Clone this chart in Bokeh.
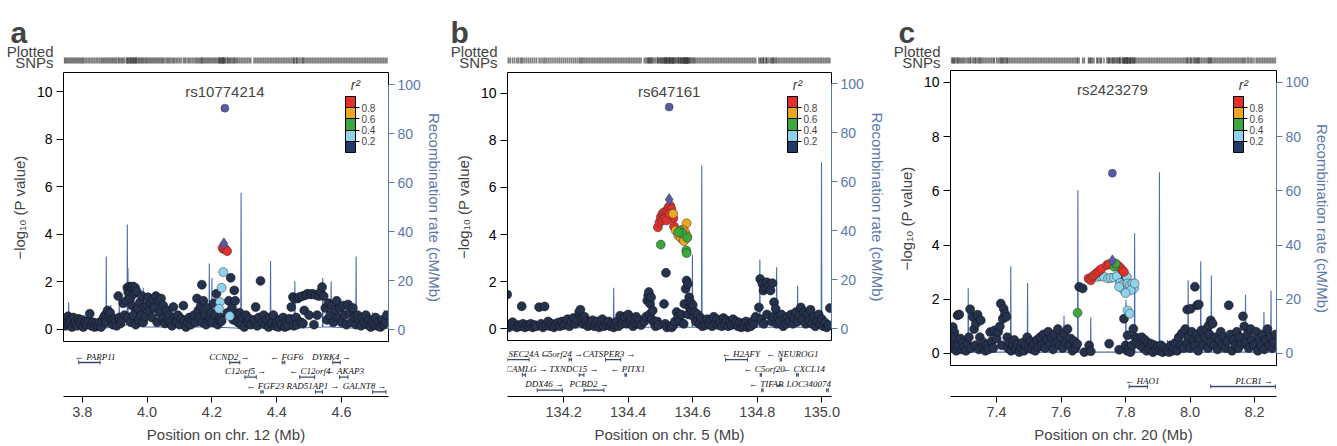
import math
from bokeh.plotting import figure
from bokeh.models import (Range1d, LinearAxis, FixedTicker, ColumnDataSource, Label,
                          LabelSet, ColorBar, LinearColorMapper, PrintfTickFormatter, AllLabels)
from bokeh.layouts import row, column
from bokeh.embed import file_html
from bokeh.resources import INLINE

FONT = "Liberation Sans"
NAVY_PT = "#25324e"
LD_PALETTE = ["#203a66", "#8dd3ec", "#3aa83a", "#f2a51e", "#e5302a"]
LEAD_COL = "#5b5a9e"
REC_COL = "#4b6db0"
RAXIS_COL = "#5a78ad"
GENE_COL = "#3b4a6b"

# ---------------- Panel a : chr12 ----------------
A_TITLE = "rs10774214"
A_XLABEL = "Position on chr. 12 (Mb)"
A_XTICKS = [3.8, 4.0, 4.2, 4.4, 4.6]
A_LEAD = (4.240, 9.30)
A_LEAD_COMB = (4.237, 3.60)
A_BG = [(3.745,0.45),(3.748,0.15),(3.752,0.3),(3.756,0.55),(3.760,0.2),(3.764,0.4),(3.768,0.1),(3.772,0.5),
        (3.776,0.25),(3.780,0.35),(3.784,0.15),(3.788,0.45),(3.792,0.3),(3.796,0.2),(3.800,0.4),(3.803,0.1),
        (3.808,0.3),(3.813,0.2),(3.818,0.35),(3.823,0.66),(3.828,0.15),(3.833,0.3),(3.838,0.1),(3.843,0.25),
        (3.848,0.15),(3.853,0.3),(3.858,0.1),(3.862,0.35),(3.866,0.5),(3.870,0.6),(3.874,0.3),(3.878,0.8),
        (3.882,0.55),(3.886,0.7),(3.890,0.4),(3.894,0.2),(3.898,0.45),(3.902,0.3),(3.906,0.15),(3.911,1.4),
        (3.914,0.5),(3.918,0.25),(3.922,0.4),(3.926,1.1),(3.930,0.6),(3.936,1.2),(3.939,1.75),(3.942,1.55),
        (3.945,1.8),(3.948,1.3),(3.951,1.78),(3.954,1.0),(3.957,1.8),(3.960,1.5),(3.963,1.75),(3.966,0.8),
        (3.968,1.6),(3.940,0.5),(3.950,0.3),(3.958,0.6),(3.965,0.2),(3.972,0.9),(3.975,0.4),(3.978,1.15),
        (3.982,0.6),(3.985,1.4),(3.988,0.3),(3.992,0.95),(3.996,0.55),(3.999,1.0),(4.003,1.35),(4.007,0.8),
        (4.011,1.1),(4.015,0.5),(4.019,1.25),(4.023,0.9),(4.027,1.4),(4.031,0.3),(4.035,1.2),(4.039,0.7),
        (4.043,1.3),(4.047,0.45),(4.050,1.0),(4.055,0.25),(4.060,0.8),(4.064,0.4),(4.068,0.6),(4.072,0.3),
        (4.077,0.15),(4.081,0.94),(4.085,0.5),(4.090,0.3),(4.095,0.6),(4.100,0.2),(4.105,0.45),(4.112,1.0),
        (4.116,0.35),(4.120,0.1),(4.126,0.3),(4.130,0.5),(4.135,0.2),(4.140,0.4),(4.145,0.6),(4.150,0.3),
        (4.154,1.3),(4.158,0.8),(4.162,0.5),(4.166,1.0),(4.169,1.88),(4.170,0.3),(4.174,1.2),(4.178,0.6),
        (4.182,0.2),(4.186,0.9),(4.190,0.4),(4.194,0.5),(4.198,0.7),(4.202,0.3),(4.206,1.1),(4.210,0.6),
        (4.214,1.5),(4.218,0.2),(4.222,0.4),(4.226,0.5),(4.230,0.35),(4.248,0.7),(4.252,1.2),(4.258,2.17),
        (4.262,0.9),(4.266,0.4),(4.269,1.64),(4.272,1.2),(4.276,0.6),(4.280,0.3),(4.285,0.7),(4.290,0.2),
        (4.295,0.5),(4.300,0.1),(4.305,0.6),(4.310,0.3),(4.315,0.45),(4.320,0.2),(4.330,0.4),(4.335,0.94),
        (4.340,0.15),(4.345,0.5),(4.350,2.04),(4.355,0.3),(4.360,0.6),(4.365,0.2),(4.370,0.4),(4.375,0.1),
        (4.380,0.5),(4.385,0.25),(4.390,0.6),(4.395,0.15),(4.400,0.3),(4.405,0.1),(4.410,0.4),(4.415,0.2),
        (4.420,0.5),(4.425,0.1),(4.430,0.3),(4.435,0.15),(4.440,0.45),(4.445,0.94),(4.450,1.36),(4.453,0.15),
        (4.455,1.29),(4.460,0.5),(4.462,0.2),(4.465,1.3),(4.470,1.36),(4.475,0.3),(4.480,1.4),(4.481,0.25),
        (4.485,0.8),(4.490,1.45),(4.495,1.5),(4.500,0.6),(4.505,1.47),(4.510,1.5),(4.515,0.2),(4.520,1.45),
        (4.525,0.6),(4.530,1.4),(4.535,1.57),(4.540,1.78),(4.545,1.4),(4.550,0.9),(4.555,0.4),(4.560,1.1),
        (4.565,0.6),(4.570,1.0),(4.575,0.3),(4.580,0.8),(4.585,1.2),(4.590,0.5),(4.595,0.9),(4.600,0.3),
        (4.605,1.0),(4.610,0.6),(4.615,0.2),(4.620,1.05),(4.625,0.7),(4.630,0.3),(4.635,0.9),(4.640,0.5),
        (4.645,0.2),(4.650,0.6),(4.655,0.4),(4.660,0.15),(4.665,0.5),(4.670,0.3),(4.675,0.6),(4.680,0.2),
        (4.685,0.4),(4.690,0.1),(4.695,0.35),(4.700,0.2),(4.705,0.5),(4.710,0.15),(4.715,0.3),(4.720,0.1),
        (4.725,0.4),(4.730,0.2),(4.735,0.3),(4.740,0.6)]
A_LD = [(4.235,2.41,0.3),(4.230,1.75,0.3),(4.225,1.15,0.3),(4.222,0.87,0.3),(4.255,0.56,0.3),
        (4.235,3.38,0.7),(4.233,3.43,0.9),(4.241,3.38,0.9),(4.247,3.29,0.9)]
A_REC = [(3.742,0.5),(3.757,0.8),(3.758,11.1),(3.759,0.8),(3.873,0.6),(3.874,29.8),(3.875,0.6),
         (3.887,1.0),(3.888,10.0),(3.889,1.0),(3.913,1.0),(3.914,12.0),(3.915,1.0),(3.938,2.0),
         (3.939,42.9),(3.940,2.0),(3.941,25.0),(3.942,2.0),(3.987,1.0),(3.988,17.0),(3.989,1.0),
         (4.191,1.0),(4.192,26.9),(4.193,1.0),(4.199,1.0),(4.200,21.0),(4.201,1.0),(4.289,0.5),
         (4.290,55.8),(4.291,0.5),(4.380,0.5),(4.381,28.0),(4.382,0.5),(4.389,0.5),(4.390,8.0),
         (4.391,0.5),(4.455,0.5),(4.456,19.7),(4.457,0.5),(4.541,1.0),(4.542,21.0),(4.543,1.0),
         (4.567,1.0),(4.568,19.7),(4.569,1.0),(4.644,0.5),(4.645,29.8),(4.646,0.5),(4.695,0.5),
         (4.696,7.0),(4.697,0.5),(4.731,0.5),(4.732,8.0),(4.733,0.5),(4.745,0.5)]
# name, start, end, strand, row, label centre
A_GENES = [("PARP11",3.789,3.855,"-",1,3.840),("CCND2",4.255,4.286,"+",1,4.254),
           ("FGF6",4.417,4.425,"-",1,4.431),("DYRK4",4.573,4.596,"+",1,4.569),
           ("C12orf5",4.302,4.337,"+",2,4.304),("C12orf4",4.471,4.517,"-",2,4.502),
           ("AKAP3",4.594,4.620,"-",2,4.611),("FGF23",4.351,4.358,"-",3,4.365),
           ("RAD51AP1",4.520,4.541,"+",3,4.512),("GALNT8",4.696,4.737,"+",3,4.671)]

# ---------------- Panel b : chr5 ----------------
B_TITLE = "rs647161"
B_XLABEL = "Position on chr. 5 (Mb)"
B_XTICKS = [134.2, 134.4, 134.6, 134.8, 135.0]
B_LEAD = (134.527, 9.42)
B_LEAD_COMB = (134.527, 5.49)
B_BG = [(134.025,1.45),(134.030,0.05),(134.035,0.2),(134.042,0.27),(134.048,0.1),(134.055,0.05),(134.060,0.15),
        (134.066,0.1),(134.070,0.95),(134.074,0.2),(134.080,0.05),(134.086,0.15),(134.092,0.1),(134.098,0.2),
        (134.104,0.05),(134.110,0.15),(134.116,0.1),(134.124,0.91),(134.130,0.2),(134.136,0.05),(134.141,0.94),
        (134.146,0.15),(134.152,0.3),(134.158,0.1),(134.164,0.2),(134.170,0.05),(134.176,0.15),(134.182,0.25),
        (134.188,0.1),(134.194,0.3),(134.200,0.15),(134.206,0.2),(134.212,0.4),(134.218,0.1),(134.224,0.3),
        (134.230,0.45),(134.236,0.2),(134.242,0.35),(134.248,0.7),(134.252,0.8),(134.256,0.4),(134.260,0.2),
        (134.265,0.5),(134.270,0.3),(134.275,0.1),(134.280,0.25),(134.285,0.15),(134.290,0.35),(134.295,0.1),
        (134.300,0.2),(134.305,0.3),(134.310,0.05),(134.315,0.2),(134.320,0.4),(134.325,0.1),(134.330,0.25),
        (134.335,0.15),(134.340,0.3),(134.345,0.1),(134.350,0.2),(134.355,0.05),(134.360,0.15),(134.365,0.3),
        (134.370,0.1),(134.375,0.55),(134.380,0.2),(134.385,0.35),(134.390,0.5),(134.395,0.2),(134.400,0.6),
        (134.405,0.3),(134.410,0.4),(134.415,0.1),(134.420,0.25),(134.425,0.5),(134.430,0.2),(134.435,0.35),
        (134.440,0.15),(134.450,0.3),(134.455,0.5),(134.459,1.19),(134.462,1.4),(134.464,1.55),(134.466,0.6),
        (134.468,1.05),(134.471,1.33),(134.473,0.4),(134.476,0.77),(134.480,0.25),(134.485,0.1),(134.490,0.3),
        (134.494,0.15),(134.511,1.05),(134.515,0.2),(134.517,2.37),(134.520,0.05),(134.530,0.1),(134.535,0.05),
        (134.540,0.15),(134.545,0.3),(134.550,0.7),(134.555,0.5),(134.560,0.3),(134.565,0.6),(134.572,0.2),
        (134.574,1.05),(134.578,1.69),(134.581,2.04),(134.585,1.9),(134.586,0.6),(134.589,1.33),(134.590,0.9),
        (134.593,1.12),(134.596,0.8),(134.600,1.0),(134.603,0.5),(134.606,0.7),(134.610,0.3),(134.615,0.6),
        (134.620,0.2),(134.625,0.45),(134.630,0.1),(134.635,0.3),(134.640,0.15),(134.645,0.4),(134.650,0.2),
        (134.655,0.35),(134.660,0.1),(134.665,0.5),(134.670,0.25),(134.675,0.4),(134.680,0.15),(134.685,0.3),
        (134.690,0.1),(134.695,0.45),(134.700,0.2),(134.705,0.35),(134.710,0.1),(134.715,0.3),(134.720,0.15),
        (134.725,0.4),(134.730,0.2),(134.735,0.3),(134.740,0.1),(134.745,0.25),(134.750,0.05),(134.755,0.2),
        (134.760,0.1),(134.765,0.3),(134.770,0.05),(134.775,0.15),(134.780,0.1),(134.785,0.3),(134.790,0.2),
        (134.795,0.5),(134.805,0.9),(134.809,2.11),(134.812,0.4),(134.816,1.9),(134.819,1.62),(134.820,0.2),
        (134.826,1.76),(134.829,1.97),(134.830,0.6),(134.836,1.83),(134.841,1.62),(134.845,0.3),(134.847,1.93),
        (134.850,0.5),(134.852,1.12),(134.857,0.84),(134.860,0.2),(134.865,0.5),(134.870,0.3),(134.875,0.6),
        (134.880,0.1),(134.885,0.4),(134.890,0.2),(134.895,0.5),(134.900,0.3),(134.905,0.6),(134.910,0.2),
        (134.915,0.45),(134.920,0.7),(134.925,0.3),(134.930,0.55),(134.935,0.9),(134.940,0.4),(134.945,0.7),
        (134.950,0.2),(134.955,0.6),(134.960,0.35),(134.965,0.8),(134.970,0.2),(134.975,0.5),(134.980,0.1),
        (134.985,0.3),(134.990,0.6),(134.995,0.2),(135.000,0.4),(135.005,0.1),(135.010,0.25),(135.015,0.05),
        (135.020,0.15),(135.025,0.87)]
B_LD = [(134.492,4.31,0.9),(134.497,4.52,0.9),(134.501,4.74,0.9),(134.506,4.88,0.9),(134.511,4.95,0.9),
        (134.516,4.81,0.9),(134.521,5.02,0.9),(134.525,5.16,0.9),(134.530,5.23,0.9),(134.534,5.09,0.9),
        (134.537,4.90,0.9),(134.540,4.69,0.9),(134.542,4.34,0.9),(134.506,4.60,0.9),(134.513,4.67,0.9),
        (134.519,4.60,0.9),(134.528,4.88,0.9),
        (134.539,4.88,0.7),(134.581,4.48,0.7),(134.547,4.17,0.7),(134.555,3.96,0.7),(134.563,3.86,0.7),
        (134.571,3.77,0.7),(134.578,4.03,0.7),(134.575,4.14,0.7),(134.568,4.20,0.7),(134.583,3.91,0.7),
        (134.573,3.72,0.7),
        (134.501,3.57,0.5),(134.561,4.17,0.5),(134.567,4.06,0.5),(134.580,3.32,0.5),(134.581,3.21,0.5),
        (134.583,3.86,0.5),(134.555,4.10,0.5)]
B_REC = [(134.026,0.3),(134.354,0.3),(134.355,16.6),(134.356,0.3),(134.410,0.5),(134.411,6.7),(134.412,0.5),
         (134.440,0.5),(134.441,5.0),(134.442,0.5),(134.520,0.5),(134.527,2.0),(134.534,0.5),(134.598,0.5),
         (134.599,30.2),(134.600,0.5),(134.627,0.5),(134.628,66.5),(134.629,0.5),(134.807,0.5),(134.808,28.2),
         (134.809,0.5),(134.859,0.5),(134.860,25.0),(134.861,0.5),(134.924,0.5),(134.925,17.5),(134.926,0.5),
         (134.998,0.5),(134.999,67.9),(135.000,0.5),(135.030,0.5)]
B_GENES = [("SEC24A",133.999,134.093,"+",1,134.094),("C5orf24",134.217,134.224,"+",1,134.196),
           ("CATSPER3",134.330,134.377,"+",1,134.341),("H2AFY",134.702,134.770,"-",1,134.749),
           ("NEUROG1",134.871,134.875,"-",1,134.909),("CAMLG",134.072,134.082,"+",2,134.086),
           ("TXNDC15",134.248,134.263,"+",2,134.232),("PITX1",134.390,134.394,"-",2,134.399),
           ("C5orf20",134.809,134.813,"-",2,134.821),("CXCL14",134.922,134.927,"-",2,134.944),
           ("DDX46",134.118,134.196,"+",3,134.141),("PCBD2",134.263,134.325,"+",3,134.279),
           ("TIFAB",134.814,134.818,"-",3,134.828),("LOC340074",135.015,135.020,"-",3,134.942)]

# ---------------- Panel c : chr20 ----------------
C_TITLE = "rs2423279"
C_XLABEL = "Position on chr. 20 (Mb)"
C_XTICKS = [7.4, 7.6, 7.8, 8.0, 8.2]
C_LEAD = (7.759, 6.65)
C_LEAD_COMB = (7.759, 3.42)
C_BG = [(7.260,0.5),(7.264,0.98),(7.265,0.2),(7.269,0.79),(7.270,0.6),(7.275,0.1),(7.279,1.41),(7.280,0.3),
        (7.284,1.44),(7.288,0.55),(7.292,0.15),(7.296,0.4),(7.300,0.25),(7.305,0.1),(7.310,0.35),(7.314,0.6),
        (7.318,1.63),(7.320,0.2),(7.326,1.35),(7.330,0.9),(7.334,0.3),(7.336,1.1),(7.341,1.43),(7.345,0.15),
        (7.348,0.6),(7.351,1.22),(7.355,0.25),(7.360,0.4),(7.365,0.1),(7.370,0.3),(7.375,0.15),(7.380,0.79),
        (7.385,0.45),(7.390,0.2),(7.393,0.85),(7.400,0.55),(7.405,0.8),(7.410,1.0),(7.413,1.84),(7.416,0.3),
        (7.419,1.28),(7.422,1.65),(7.426,1.47),(7.430,1.35),(7.433,0.6),(7.435,0.2),(7.440,0.4),(7.445,0.1),
        (7.450,0.3),(7.455,0.5),(7.460,0.15),(7.465,0.35),(7.470,0.05),(7.475,0.25),(7.480,0.4),(7.485,0.1),
        (7.490,0.3),(7.495,0.6),(7.500,0.2),(7.505,0.45),(7.510,0.15),(7.515,0.35),(7.520,0.1),(7.525,0.5),
        (7.530,0.25),(7.535,0.6),(7.540,0.3),(7.545,0.7),(7.550,0.2),(7.555,0.5),(7.560,0.8),(7.565,0.35),
        (7.570,0.6),(7.575,0.15),(7.580,0.7),(7.585,0.4),(7.590,0.9),(7.595,0.3),(7.600,0.6),(7.605,0.2),
        (7.610,0.75),(7.615,0.4),(7.620,0.9),(7.625,0.3),(7.630,0.55),(7.635,0.1),(7.640,0.45),(7.645,0.2),
        (7.650,0.35),(7.656,2.46),(7.667,2.40),(7.672,0.05),(7.687,0.3),(7.692,0.08),(7.749,0.36),(7.780,0.14),
        (7.795,1.28),(7.798,2.80),(7.800,0.3),(7.805,0.1),(7.806,0.67),(7.810,0.2),(7.815,0.05),(7.820,0.3),
        (7.824,0.91),(7.830,0.6),(7.835,0.4),(7.840,0.55),(7.845,0.3),(7.850,0.6),(7.855,0.2),(7.860,0.5),
        (7.865,0.1),(7.870,0.4),(7.875,0.2),(7.880,0.35),(7.885,0.05),(7.890,0.3),(7.895,0.15),(7.900,0.25),
        (7.905,0.1),(7.910,0.3),(7.915,0.05),(7.920,0.2),(7.925,0.1),(7.930,0.15),(7.935,0.05),(7.940,0.3),
        (7.945,0.1),(7.950,0.2),(7.955,0.4),(7.960,0.1),(7.965,0.6),(7.970,0.3),(7.975,0.75),(7.980,0.2),
        (7.985,0.9),(7.990,0.4),(7.991,1.62),(7.995,0.6),(8.000,0.2),(8.002,1.65),(8.005,0.8),(8.010,0.5),
        (8.015,2.46),(8.015,0.3),(8.020,0.7),(8.022,1.78),(8.025,0.1),(8.027,1.81),(8.030,0.55),(8.035,0.85),
        (8.040,0.3),(8.045,0.6),(8.050,0.9),(8.055,0.2),(8.058,1.04),(8.060,0.7),(8.064,1.22),(8.065,0.4),
        (8.070,1.1),(8.075,0.3),(8.080,0.6),(8.085,0.15),(8.090,0.5),(8.095,0.8),(8.100,0.3),(8.105,0.6),
        (8.110,0.2),(8.115,0.45),(8.120,1.78),(8.125,0.7),(8.130,0.1),(8.135,0.5),(8.140,0.3),(8.145,0.8),
        (8.150,0.2),(8.155,0.6),(8.160,0.35),(8.164,1.37),(8.168,1.0),(8.172,0.4),(8.178,0.7),(8.182,0.2),
        (8.188,0.9),(8.192,0.5),(8.198,0.3),(8.205,0.8),(8.210,0.1),(8.215,0.55),(8.220,0.3),(8.225,0.7),
        (8.230,0.15),(8.235,0.5),(8.240,0.9),(8.245,0.3),(8.250,0.6),(8.255,0.2),(8.260,0.4),(8.265,0.7)]
C_LD = [(7.713,2.83,0.3),(7.723,2.85,0.3),(7.733,2.83,0.3),(7.746,2.77,0.3),(7.754,2.79,0.3),(7.764,2.80,0.3),
        (7.773,2.85,0.3),(7.783,2.60,0.3),(7.790,2.52,0.3),(7.795,2.33,0.3),(7.804,2.83,0.3),(7.806,2.58,0.3),
        (7.813,2.52,0.3),(7.821,2.58,0.3),(7.826,2.40,0.3),(7.816,2.33,0.3),(7.800,2.23,0.3),(7.806,1.59,0.3),
        (7.813,1.47,0.3),(7.780,2.46,0.3),(7.828,2.58,0.3),
        (7.685,2.77,0.9),(7.692,2.70,0.9),(7.697,2.83,0.9),(7.702,2.89,0.9),(7.711,2.98,0.9),(7.718,3.05,0.9),
        (7.725,3.12,0.9),(7.742,3.26,0.9),(7.749,3.30,0.9),(7.775,3.26,0.9),(7.783,3.17,0.9),(7.790,3.07,0.9),
        (7.795,3.01,0.9),
        (7.765,3.20,0.5),(7.769,3.32,0.5),(7.651,1.50,0.5)]
C_REC = [(7.257,0.5),(7.311,0.5),(7.312,24.1),(7.313,0.5),(7.443,0.5),(7.444,32.2),(7.445,0.5),(7.495,0.5),
         (7.496,26.0),(7.497,0.5),(7.608,0.5),(7.609,14.0),(7.610,0.5),(7.651,0.5),(7.652,60.2),(7.653,0.5),
         (7.691,0.5),(7.692,13.3),(7.693,0.5),(7.800,0.5),(7.801,19.8),(7.802,0.5),(7.827,0.5),(7.828,44.4),
         (7.829,0.5),(7.904,0.5),(7.905,66.9),(7.906,0.5),(7.929,0.5),(7.930,5.0),(7.931,0.5),(7.993,0.5),
         (7.994,27.0),(7.995,0.5),(8.032,0.5),(8.033,34.0),(8.034,0.5),(8.065,0.5),(8.066,28.8),(8.067,0.5),
         (8.171,0.5),(8.172,21.7),(8.173,0.5),(8.228,0.5),(8.229,15.3),(8.230,0.5),(8.250,0.5),(8.251,23.2),
         (8.252,0.5),(8.268,0.5)]
C_GENES = [("HAO1",7.811,7.868,"-",1,7.852),("PLCB1",8.064,8.265,"+",1,8.199)]

Y_TICKS = [0, 2, 4, 6, 8, 10]
REC_TICKS = [0, 20, 40, 60, 80, 100]
R2_TICKS = [0.2, 0.4, 0.6, 0.8]
HEADER_TICKS = {19.5: "Plotted", 6: "SNPs"}

# layout (pixels) and ranges for each panel
LAY = {
    "a": dict(bl=63, fw=325, br=57, xr=(3.742, 4.745), mt=2, fh=270, yr=(-0.55, 10.8),
              rr=(-5.3, 104.9), gh=54, gy=(3.32, -0.365), ty=10.0, cb=(282, 190), lo=-53),
    "b": dict(bl=62, fw=324, br=59, xr=(134.026, 135.03), mt=2, fh=269, yr=(-0.55, 10.89),
              rr=(-5.3, 104.5), gh=55, gy=(3.41, -0.18), ty=10.1, cb=(280, 189), lo=-57),
    "c": dict(bl=53, fw=326, br=68, xr=(7.257, 8.268), mt=0, fh=296, yr=(-0.48, 10.44),
              rr=(-4.8, 104.4), gh=30, gy=(1.68, -0.365), ty=9.74, cb=(283, 214), lo=-52),
}

PANELS = [
    ("a", A_TITLE, A_XLABEL, A_XTICKS, A_LEAD, A_LEAD_COMB, A_BG, A_LD, A_REC, A_GENES),
    ("b", B_TITLE, B_XLABEL, B_XTICKS, B_LEAD, B_LEAD_COMB, B_BG, B_LD, B_REC, B_GENES),
    ("c", C_TITLE, C_XLABEL, C_XTICKS, C_LEAD, C_LEAD_COMB, C_BG, C_LD, C_REC, C_GENES),
]


def style_common(p):
    p.toolbar.logo = None
    p.background_fill_color = "white"
    p.border_fill_color = "white"


def make_panel(letter, title, xlabel, xticks, lead, lead_comb, bg, ld, rec, genes):
    L = LAY[letter]
    x0, x1 = L["xr"]
    mb_per_px = (x1 - x0) / L["fw"]
    xr = Range1d(x0, x1)

    # ---- header: letter (title), "Plotted SNPs" (axis labels) and the SNP rug ----
    all_pos = [p for p, _ in bg] + [p for p, _, _ in ld] + [lead[0], lead_comb[0]]
    rug = figure(x_range=xr, y_range=Range1d(0, 22), frame_width=L["fw"], frame_height=22,
                 min_border_left=L["bl"], min_border_right=L["br"], min_border_top=48,
                 min_border_bottom=0, x_axis_type=None, y_axis_type=None, title=letter,
                 toolbar_location=None, output_backend="svg")
    style_common(rug)
    rug.outline_line_color = None
    rug.grid.visible = False
    rug.title.text_font = FONT
    rug.title.text_font_size = "30px"
    rug.title.text_font_style = "bold"
    rug.title.align = "left"
    rug.title.offset = L["lo"]
    rug.title.standoff = 0
    rug.segment(x0="pos", y0=7, x1="pos", y1=13, source=ColumnDataSource(dict(pos=all_pos)),
                line_color="#3c3c3c", line_alpha=0.65, line_width=1.6)
    hax = LinearAxis(ticker=FixedTicker(ticks=list(HEADER_TICKS.keys())),
                     major_label_overrides=dict(HEADER_TICKS),
                     axis_line_color=None, major_tick_line_color=None, minor_tick_line_color=None,
                     major_label_text_font=FONT, major_label_text_font_size="15px",
                     major_label_standoff=4)
    rug.add_layout(hax, "left")

    # ---- main association plot ----
    main = figure(x_range=xr, y_range=Range1d(*L["yr"]), extra_y_ranges={"rec": Range1d(*L["rr"])},
                  frame_width=L["fw"], frame_height=L["fh"], min_border_left=L["bl"],
                  min_border_right=L["br"], min_border_top=L["mt"], min_border_bottom=0,
                  x_axis_type=None, toolbar_location=None, output_backend="svg")
    style_common(main)
    main.grid.visible = False
    main.outline_line_color = "black"
    main.outline_line_alpha = 1.0
    main.outline_line_width = 1
    yax = main.yaxis[0]
    yax.ticker = FixedTicker(ticks=Y_TICKS)
    yax.bounds = (0, 10)
    yax.axis_label = "\u2212log\u2081\u2080 (P value)"
    yax.axis_label_text_font = FONT
    yax.axis_label_text_font_size = "15px"
    yax.axis_label_text_font_style = "normal"
    yax.axis_label_standoff = 6
    yax.major_label_text_font = FONT
    yax.major_label_text_font_size = "14px"
    yax.major_label_standoff = 4
    yax.major_tick_out = 7
    yax.major_tick_in = 0
    yax.minor_tick_line_color = None
    yax.axis_line_color = "black"
    yax.major_tick_line_color = "black"
    yax.major_label_text_color = "black"

    rax = LinearAxis(y_range_name="rec", ticker=FixedTicker(ticks=REC_TICKS), bounds=(0, 100),
                     axis_label="Recombination rate (cM/Mb)")
    rax.axis_label_text_font = FONT
    rax.axis_label_text_font_size = "15px"
    rax.axis_label_text_font_style = "normal"
    rax.axis_label_text_color = RAXIS_COL
    rax.axis_label_standoff = 2
    rax.major_label_text_font = FONT
    rax.major_label_text_font_size = "14px"
    rax.major_label_text_color = RAXIS_COL
    rax.major_label_standoff = 3
    rax.major_tick_out = 6
    rax.major_tick_in = 0
    rax.minor_tick_line_color = None
    rax.axis_line_color = RAXIS_COL
    rax.major_tick_line_color = RAXIS_COL
    main.add_layout(rax, "right")

    rec_src = ColumnDataSource(dict(pos=[p for p, _ in rec], rate=[r for _, r in rec]))
    main.line("pos", "rate", source=rec_src, y_range_name="rec", line_color=REC_COL, line_width=1.1)

    bg_src = ColumnDataSource(dict(pos=[p for p, _ in bg], logp=[v for _, v in bg]))
    main.scatter("pos", "logp", source=bg_src, size=9, fill_color=NAVY_PT, line_color="#111111",
                 line_width=0.5)

    mapper = LinearColorMapper(palette=LD_PALETTE, low=0, high=1)
    ld_src = ColumnDataSource(dict(pos=[p for p, _, _ in ld], logp=[v for _, v, _ in ld],
                                   r2=[r for _, _, r in ld]))
    main.scatter("pos", "logp", source=ld_src, size=9,
                 fill_color={"field": "r2", "transform": mapper}, line_color="#333333",
                 line_width=0.5)

    main.scatter(x=[lead_comb[0]], y=[lead_comb[1]], marker="diamond", size=12,
                 fill_color=LEAD_COL, line_color="#3a3a6a", line_width=0.5)
    main.scatter(x=[lead[0]], y=[lead[1]], size=8, fill_color=LEAD_COL, line_color="#3a3a6a",
                 line_width=0.5)

    main.add_layout(Label(x=lead[0], y=L["ty"], text=title, text_align="center",
                          text_baseline="middle", text_font=FONT, text_font_size="15px"))

    cbx, cby = L["cb"]
    cbar = ColorBar(color_mapper=mapper, ticker=FixedTicker(ticks=R2_TICKS), width=10, height=56,
                    location=(cbx, cby), orientation="vertical", padding=0, margin=0,
                    major_label_text_font=FONT, major_label_text_font_size="10px",
                    major_label_policy=AllLabels(),
                    label_standoff=2, major_tick_in=10, major_tick_out=4,
                    major_tick_line_color="black", bar_line_color="black",
                    background_fill_alpha=0, border_line_color=None)
    main.add_layout(cbar)
    y0, y1 = L["yr"]
    main.add_layout(Label(x=x0 + (cbx + 10) * mb_per_px,
                          y=y0 + (cby + 56) * (y1 - y0) / L["fh"], y_offset=12,
                          text="r\u00b2", text_font=FONT, text_font_size="14px",
                          text_font_style="italic", text_align="center", text_baseline="middle"))

    # ---- gene track + x axis ----
    gene = figure(x_range=xr, y_range=Range1d(*L["gy"]), frame_width=L["fw"],
                  frame_height=L["gh"], min_border_left=L["bl"], min_border_right=L["br"],
                  min_border_top=0, min_border_bottom=50, y_axis_type=None,
                  toolbar_location=None, output_backend="svg")
    style_common(gene)
    gene.outline_line_color = None
    gene.grid.visible = False
    xax = gene.xaxis[0]
    xax.ticker = FixedTicker(ticks=xticks)
    xax.formatter = PrintfTickFormatter(format="%.1f")
    xax.axis_label = xlabel
    xax.axis_label_text_font = FONT
    xax.axis_label_text_font_size = "15px"
    xax.axis_label_text_font_style = "normal"
    xax.axis_label_standoff = 6
    xax.major_label_text_font = FONT
    xax.major_label_text_font_size = "14.5px"
    xax.major_label_standoff = 4
    xax.major_tick_out = 6
    xax.major_tick_in = 0
    xax.minor_tick_line_color = None
    xax.axis_line_color = "black"

    gsrc = ColumnDataSource(dict(
        start=[max(g[1], x0) for g in genes], end=[min(g[2], x1) for g in genes],
        row=[g[4] for g in genes], lab=[g[5] for g in genes],
        text=[("\u2190 " + g[0]) if g[3] == "-" else (g[0] + " \u2192") for g in genes]))
    gene.segment(x0="start", y0="row", x1="end", y1="row", source=gsrc, line_color=GENE_COL,
                 line_width=1.3)
    gene.scatter("start", "row", source=gsrc, marker="dash", angle=math.pi / 2, size=4,
                 line_color=GENE_COL, line_width=1)
    gene.scatter("end", "row", source=gsrc, marker="dash", angle=math.pi / 2, size=4,
                 line_color=GENE_COL, line_width=1)
    gene.add_layout(LabelSet(x="lab", y="row", text="text", source=gsrc, text_align="center",
                             text_baseline="middle", y_offset=6, text_font=FONT,
                             text_font_size="9px", text_font_style="italic",
                             text_color="#111111"))

    return column(rug, main, gene, spacing=0)


cols = [make_panel(*spec) for spec in PANELS]
layout = row(*cols, spacing=0)

open("out.html", "w").write(file_html(layout, INLINE, title="Regional association plots"))
